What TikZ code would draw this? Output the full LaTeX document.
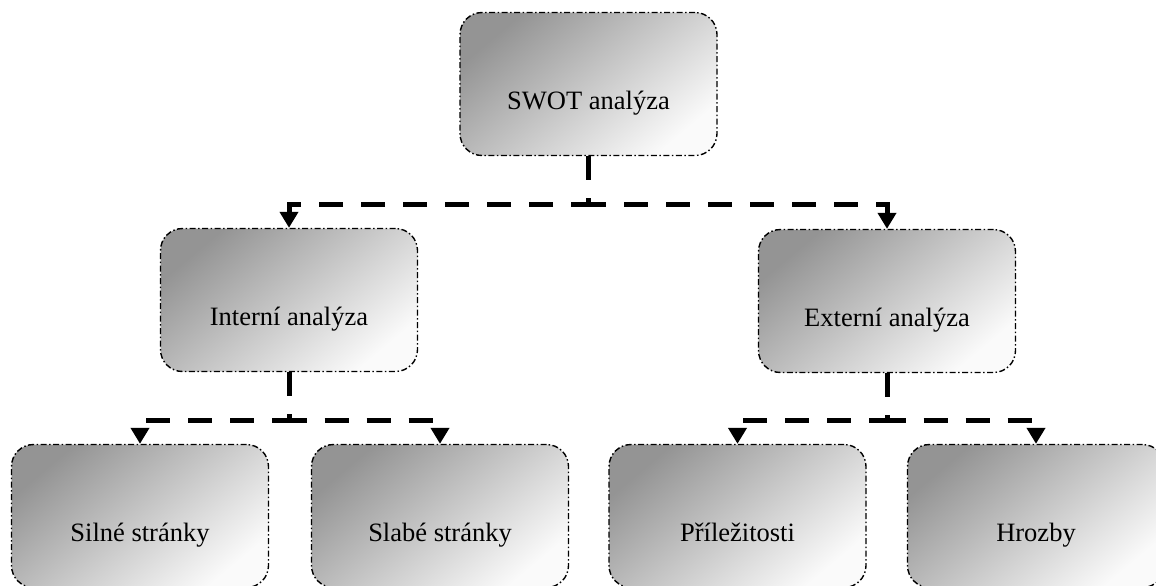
\documentclass[tikz,border=0pt]{standalone}
\usepackage{fontspec}
\setmainfont{Liberation Serif}
\usetikzlibrary{arrows.meta}
\tikzset{
  box/.style={draw, line width=0.7pt, rounded corners=11pt,
    dash pattern=on 3pt off 1.25pt on 0.75pt off 1.25pt,
    top color=black!42, bottom color=black!2, shading angle=40,
    minimum width=128.5pt, minimum height=71.5pt,
    text height=25pt, text depth=0pt,
    font=\fontsize{13.25}{16}\selectfont},
  link/.style={line width=2.5pt, dash pattern=on 12pt off 9pt,
    -{Triangle[length=8pt,width=9pt]}}
}
\begin{document}
\begin{tikzpicture}[x=0.5pt,y=-0.5pt]
    \useasboundingbox (0,0) rectangle (1156,585);
    \clip (0,0) rectangle (1156,585);
    \node[box] (swot) at (588.5,84) {SWOT analýza};
    \node[box] (intern) at (289,300) {Interní analýza};
    \node[box] (extern) at (887,301) {Externí analýza};
    \node[box] (silne) at (140,516) {Silné stránky};
    \node[box] (slabe) at (440,516) {Slabé stránky};
    \node[box] (prilez) at (737.5,516) {Příležitosti};
    \node[box] (hrozby) at (1036,516) {Hrozby};
    \draw[link] (swot.south) -- ++(0,48.5) -| (intern.north);
    \draw[link] (swot.south) -- ++(0,48.5) -| (extern.north);
    \draw[link] (intern.south) -- ++(0,48.5) -| (silne.north);
    \draw[link] (intern.south) -- ++(0,48.5) -| (slabe.north);
    \draw[link] (extern.south) -- ++(0,47.5) -| (prilez.north);
    \draw[link] (extern.south) -- ++(0,47.5) -| (hrozby.north);
\end{tikzpicture}
\end{document}
